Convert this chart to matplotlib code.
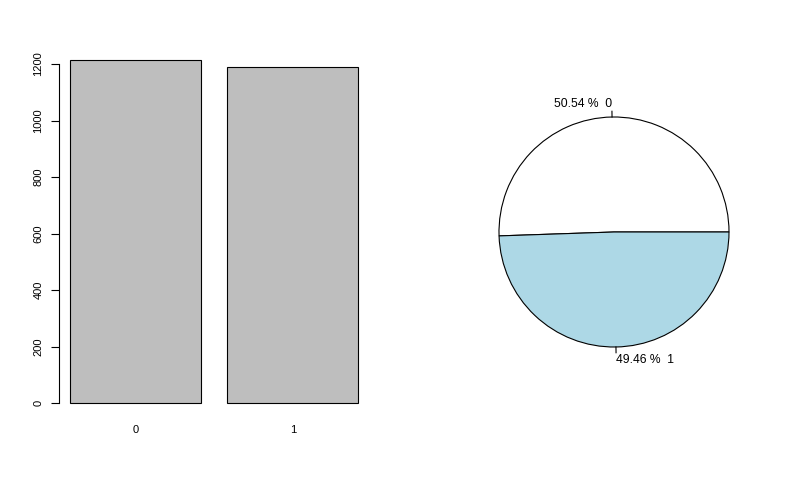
import numpy as np
import matplotlib
matplotlib.use("Agg")
import matplotlib.pyplot as plt

plt.rcParams['font.family'] = ['Liberation Sans', 'DejaVu Sans']

# counts per class
classes = ['0', '1']
counts = [1215, 1189]
yticks = [0, 200, 400, 600, 800, 1000, 1200]
pie_colors = ['white', 'lightblue']

W, H = 800, 480
fig = plt.figure(figsize=(8, 4.8), dpi=100)

def px_axes(l, t, r, b):
    # pixel box (top-left origin) -> figure fraction
    return fig.add_axes([l / W, (H - b) / H, (r - l) / W, (b - t) / H])

# ---- barplot
ax = px_axes(58.7, 50, 369.7, 415)
xpos = [0.7, 1.9]
ax.bar(xpos, counts, width=1.0, color='#BEBEBE', edgecolor='black', linewidth=0.8)
ax.set_xlim(0.112, 2.488)
ax.set_ylim(-(415 - 403) / 0.2825, (403 - 50) / 0.2825)
for s in ['top', 'right', 'bottom']:
    ax.spines[s].set_visible(False)
ax.spines['left'].set_bounds(0, 1200)
ax.spines['left'].set_linewidth(0.8)
ax.set_yticks(yticks)
ax.set_yticklabels([str(v) for v in yticks], rotation=90, va='center', fontsize=8)
ax.tick_params(axis='y', length=5.8, width=0.8, pad=5.2)
ax.set_xticks(xpos)
ax.set_xticklabels(classes, fontsize=8)
ax.tick_params(axis='x', length=0, pad=7.5)

# ---- pie
pax = px_axes(614 - 150, 232 - 150, 614 + 150, 232 + 150)
total = sum(counts)
pct = [100 * c / total for c in counts]
labels = [f"{p:.2f} %  {c}" for p, c in zip(pct, classes)]
wedges, texts = pax.pie(counts, colors=pie_colors, startangle=0, counterclock=True,
                        labels=labels, labeldistance=1.11,
                        wedgeprops=dict(edgecolor='black', linewidth=0.8),
                        textprops=dict(fontsize=8.7))
start = 0.0
for c in counts:
    mid = np.deg2rad(start + 360 * c / total / 2)
    pax.plot([np.cos(mid), 1.05 * np.cos(mid)], [np.sin(mid), 1.05 * np.sin(mid)],
             color='black', linewidth=0.8)
    start += 360 * c / total
pax.set_xlim(-150 / 115, 150 / 115)
pax.set_ylim(-150 / 115, 150 / 115)
pax.axis('off')

fig.savefig('out.png', dpi=100)
